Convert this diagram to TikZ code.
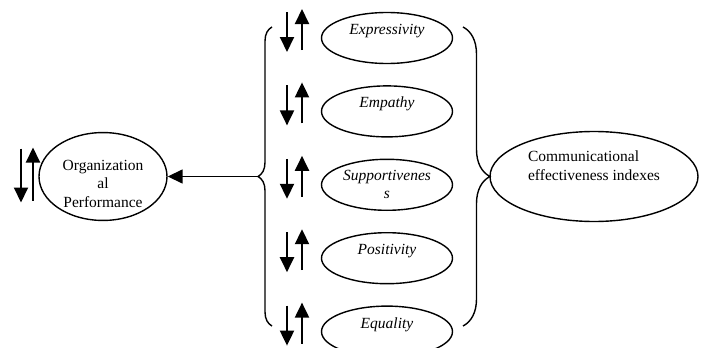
\documentclass[tikz,border=0pt]{standalone}
\usepackage{fontspec}
\setmainfont{Liberation Serif}
\usepackage{tikz}
\usetikzlibrary{positioning,shapes.geometric,arrows.meta,decorations.pathreplacing}
\tikzstyle{factor}=[ellipse, draw=black, line width=1.4pt, minimum width=131pt, minimum height=51pt, inner sep=0pt, align=center, font=\fontsize{15.5}{18}\selectfont\itshape]
\tikzstyle{raised}=[text height=11pt, text depth=18pt]
\tikzstyle{outcome}=[ellipse, draw=black, line width=1.4pt, inner sep=0pt, font=\fontsize{15.5}{18.5}\selectfont]
\tikzstyle{pointer}=[->, line width=2pt]
\tikzstyle{curly}=[decorate, decoration={brace, amplitude=14pt}, line width=1.4pt]
\tikzset{>={Triangle[length=15pt,width=14pt]}}

\begin{document}
\begin{tikzpicture}[x=1pt,y=-1pt]
    \useasboundingbox (0,0) rectangle (705,348);

        \node(expressivity)[factor, raised] at (387,38) {Expressivity};
        \node(empathy)[factor, raised, below=21pt of expressivity] {Empathy};
        \node(supportiveness)[factor, below=21pt of empathy] {Supportivenes\\s};
        \node(positivity)[factor, raised, below=21pt of supportiveness] {Positivity};
        \node(equality)[factor, raised, below=21pt of positivity] {Equality};

        \foreach \f in {expressivity,empathy,supportiveness,positivity,equality}{
            \draw [pointer] ([xshift=-100pt,yshift=26pt]\f.center) -- ++(0,40);
            \draw [pointer] ([xshift=-85pt,yshift=-12pt]\f.center) -- ++(0,-41);
        };

        \node(performance)[outcome, minimum width=128pt, minimum height=85pt, align=center] at (103,176.5) {\rule{0pt}{25pt}Organization\\al\\Performance};
        \draw [pointer] ([xshift=-82pt,yshift=28pt]performance.center) -- ++(0,54);
        \draw [pointer] ([xshift=-70pt,yshift=-24pt]performance.center) -- ++(0,-53);

        \node(indexes)[outcome, minimum width=208pt, minimum height=90pt, align=left, text depth=22pt] at (594,176.5) {Communicational\\effectiveness indexes};

        % braces round the indexes
        \coordinate (leftTop) at (272,27);
        \coordinate (leftBottom) at (272,326);
        \coordinate (leftTip) at (258,176.5);
        \draw [curly] (leftBottom) -- (leftTop);

        \coordinate (rightTop) at (463,27);
        \coordinate (rightBottom) at (463,326);
        \draw [curly, decoration={amplitude=27pt}] (rightTop) -- (rightBottom);

        \draw [->, line width=1.5pt] (leftTip) -- (performance);

\end{tikzpicture}
\end{document}
